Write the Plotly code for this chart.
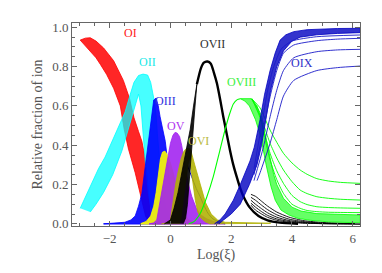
import plotly.graph_objects as go

# ---------------- data (Log(xi), fraction) ----------------
# OI band (red): leftmost member and rightmost member
OI_left_x = [-2.97, -2.8, -2.64, -2.45, -2.3, -2.1, -1.87, -1.65, -1.52, -1.38, -1.16, -1.0, -0.9, -0.82, -0.72, -0.6]
OI_left_y = [0.935, 0.905, 0.876, 0.845, 0.81, 0.76, 0.69, 0.60, 0.48, 0.38, 0.26, 0.16, 0.09, 0.04, 0.01, 0.0]
OI_right_x = [-2.97, -2.8, -2.64, -2.45, -2.2, -1.87, -1.55, -1.35, -1.2, -1.05, -0.94, -0.85, -0.77, -0.72, -0.68, -0.6, -0.5]
OI_right_y = [0.935, 0.945, 0.947, 0.93, 0.895, 0.83, 0.73, 0.64, 0.54, 0.47, 0.42, 0.35, 0.25, 0.15, 0.07, 0.02, 0.0]

# OII band (cyan): outer outline and inner (hole) outline
OII_outer_x = [-2.97, -2.75, -2.55, -2.37, -2.15, -1.98, -1.8, -1.65, -1.49, -1.33, -1.2, -1.05, -0.9, -0.75,
               -0.65, -0.55, -0.47, -0.43, -0.38, -0.32, -0.25, -0.15, 0.0, 0.2, 0.4]
OII_outer_y = [0.079, 0.15, 0.22, 0.28, 0.34, 0.40, 0.46, 0.51, 0.57, 0.655, 0.72, 0.755, 0.762, 0.757,
               0.72, 0.64, 0.55, 0.46, 0.36, 0.26, 0.16, 0.08, 0.03, 0.01, 0.0]
OII_inner_x = [-2.64, -2.45, -2.2, -1.9, -1.6, -1.4, -1.2, -1.05, -0.97, -0.9, -0.82, -0.72, -0.6, -0.45]
OII_inner_y = [0.06, 0.1, 0.16, 0.25, 0.37, 0.47, 0.58, 0.66, 0.6, 0.45, 0.3, 0.15, 0.05, 0.0]

# OIII band (blue)
OIII_x = [-2.2, -1.8, -1.5, -1.3, -1.16, -1.05, -0.94, -0.83, -0.72, -0.62, -0.55, -0.47, -0.4, -0.34,
          -0.25, -0.17, -0.1, -0.03, 0.05, 0.15, 0.3, 0.5]
OIII_y = [0.0, 0.003, 0.008, 0.02, 0.04, 0.09, 0.155, 0.29, 0.43, 0.57, 0.63, 0.64, 0.6, 0.545,
          0.48, 0.42, 0.33, 0.22, 0.14, 0.07, 0.02, 0.0]
# a far-reaching blue member tail
BLUE_tail_x = [0.55, 0.7, 0.85, 0.98, 1.1, 1.23, 1.4, 1.6, 1.8]
BLUE_tail_y = [0.3, 0.24, 0.18, 0.138, 0.095, 0.055, 0.025, 0.01, 0.0]

# OIV band (yellow)
OIV_x = [-1.0, -0.8, -0.65, -0.55, -0.47, -0.4, -0.33, -0.26, -0.18, -0.1, 0.0, 0.1, 0.2, 0.32, 0.45, 0.6, 0.8, 1.0]
OIV_y = [0.0, 0.012, 0.04, 0.09, 0.16, 0.25, 0.33, 0.365, 0.37, 0.35, 0.31, 0.255, 0.18, 0.1, 0.05, 0.02, 0.005, 0.0]

# OV band (purple)
OV_x = [-0.7, -0.55, -0.45, -0.34, -0.25, -0.17, -0.08, 0.0, 0.08, 0.15, 0.22, 0.3, 0.37, 0.43, 0.5, 0.58,
        0.7, 0.85, 1.0, 1.2, 1.45, 1.8]
OV_y = [0.0, 0.005, 0.02, 0.12, 0.19, 0.257, 0.34, 0.41, 0.45, 0.465, 0.462, 0.445, 0.4, 0.34, 0.28, 0.21,
        0.14, 0.08, 0.045, 0.025, 0.01, 0.0]

# OVI band (olive)
OVI_outer_x = [-0.3, -0.1, 0.0, 0.1, 0.18, 0.26, 0.35, 0.43, 0.5, 0.58, 0.66, 0.8, 1.0, 1.15, 1.34, 1.55, 1.8, 2.5, 3.3]
OVI_outer_y = [0.0, 0.005, 0.02, 0.14, 0.21, 0.27, 0.33, 0.365, 0.38, 0.385, 0.38, 0.3, 0.187, 0.11, 0.05, 0.02, 0.008, 0.004, 0.003]
OVI_inner_x = [0.3, 0.35, 0.42, 0.5, 0.58, 0.62, 0.68, 0.75, 0.82, 0.9, 1.0, 1.15, 1.3]
OVI_inner_y = [0.0, 0.03, 0.12, 0.22, 0.3, 0.345, 0.3, 0.2, 0.12, 0.06, 0.03, 0.01, 0.0]

# OVII (black): thick rising band, main curve, spreading tails
OVII_outer_x = [-0.2, 0.0, 0.12, 0.25, 0.35, 0.45, 0.55, 0.65, 0.76, 0.87]
OVII_outer_y = [0.0, 0.02, 0.08, 0.16, 0.24, 0.32, 0.4, 0.48, 0.6, 0.71]
OVII_inner_x = [0.42, 0.5, 0.56, 0.62, 0.68, 0.74, 0.8, 0.87]
OVII_inner_y = [0.0, 0.03, 0.1, 0.2, 0.32, 0.45, 0.58, 0.71]
OVII_main_x = [0.87, 1.0, 1.1, 1.22, 1.33, 1.43, 1.53, 1.64, 1.74, 1.85, 1.96, 2.07, 2.18, 2.3, 2.4, 2.6, 2.9, 3.2, 3.6, 4.2]
OVII_main_y = [0.71, 0.79, 0.82, 0.826, 0.815, 0.77, 0.715, 0.63, 0.545, 0.46, 0.375, 0.3, 0.24, 0.18, 0.14, 0.085, 0.04, 0.018, 0.006, 0.0]
OVII_tail_x = [2.65, 2.8, 3.0, 3.2, 3.5, 3.9, 4.4, 5.0, 5.6, 6.25]
OVII_tails_y = [
    [0.15, 0.14, 0.115, 0.09, 0.06, 0.034, 0.016, 0.007, 0.003, 0.001],
    [0.135, 0.12, 0.095, 0.072, 0.046, 0.024, 0.011, 0.004, 0.002, 0.0],
    [0.12, 0.1, 0.077, 0.056, 0.034, 0.017, 0.007, 0.002, 0.001, 0.0],
    [0.105, 0.085, 0.062, 0.043, 0.025, 0.012, 0.005, 0.001, 0.0, 0.0],
    [0.095, 0.07, 0.05, 0.033, 0.018, 0.008, 0.003, 0.001, 0.0, 0.0],
]

# OVIII (green): single rising curve, dense falling band, spread tails
OVIII_rise_x = [0.6, 0.76, 0.98, 1.2, 1.41, 1.63, 1.8, 1.95, 2.07, 2.2, 2.3]
OVIII_rise_y = [0.0, 0.01, 0.053, 0.138, 0.24, 0.375, 0.48, 0.56, 0.61, 0.632, 0.637]
OVIII_low_x = [2.3, 2.45, 2.6, 2.8, 2.98, 3.15, 3.31, 3.45, 3.64, 3.9, 4.2, 4.6, 5.2, 6.25]
OVIII_low_y = [0.637, 0.625, 0.6, 0.53, 0.44, 0.3, 0.19, 0.12, 0.07, 0.045, 0.028, 0.018, 0.01, 0.005]
OVIII_up_x = [2.3, 2.5, 2.65, 2.85, 3.0, 3.15, 3.28, 3.4, 3.5, 3.72, 4.0, 4.3, 4.82, 5.5, 6.25]
OVIII_up_y = [0.637, 0.638, 0.637, 0.6, 0.53, 0.43, 0.33, 0.25, 0.2, 0.13, 0.085, 0.065, 0.052, 0.047, 0.045]
OVIII_tail_x = [2.68, 2.95, 3.1, 3.28, 3.5, 3.72, 4.0, 4.27, 4.5, 4.82, 5.2, 5.6, 6.25]
OVIII_tails_y = [
    [0.636, 0.59, 0.54, 0.477, 0.415, 0.359, 0.31, 0.274, 0.252, 0.23, 0.218, 0.211, 0.206],
    [0.636, 0.565, 0.49, 0.41, 0.335, 0.274, 0.215, 0.172, 0.154, 0.138, 0.13, 0.125, 0.121],
    [0.637, 0.55, 0.46, 0.359, 0.27, 0.206, 0.145, 0.113, 0.098, 0.087, 0.083, 0.081, 0.079],
    [0.637, 0.54, 0.44, 0.325, 0.225, 0.155, 0.1, 0.079, 0.068, 0.062, 0.059, 0.058, 0.057],
]

# OIX (dark blue): dense rising band and spread members
OIX_left_x = [1.45, 1.63, 1.8, 2.07, 2.3, 2.5, 2.62, 2.76, 2.95, 3.1, 3.28, 3.45, 3.61, 3.8, 4.06, 4.5, 4.82, 5.5, 6.25]
OIX_left_y = [0.0, 0.02, 0.05, 0.12, 0.2, 0.27, 0.32, 0.39, 0.53, 0.66, 0.78, 0.87, 0.935, 0.962, 0.978, 0.988, 0.991, 0.994, 0.995]
OIX_right_x = [1.6, 1.75, 2.0, 2.3, 2.6, 2.85, 3.0, 3.13, 3.3, 3.5, 3.72, 4.0, 4.27, 4.82, 5.5, 6.25]
OIX_right_y = [0.0, 0.02, 0.05, 0.1, 0.2, 0.3, 0.4, 0.53, 0.68, 0.8, 0.88, 0.93, 0.95, 0.962, 0.969, 0.973]
OIX_spread = [
    ([2.75, 3.0, 3.2, 3.4, 3.65, 4.0, 4.8, 6.25], [0.28, 0.5, 0.68, 0.8, 0.89, 0.93, 0.952, 0.961]),
    ([2.75, 3.06, 3.28, 3.5, 3.72, 4.06, 4.82, 5.5, 6.25], [0.25, 0.477, 0.647, 0.78, 0.868, 0.91, 0.932, 0.94, 0.944]),
    ([2.75, 3.06, 3.28, 3.5, 3.72, 4.06, 4.82, 5.5, 6.25], [0.22, 0.39, 0.545, 0.68, 0.78, 0.845, 0.876, 0.885, 0.888]),
    ([2.85, 2.95, 3.28, 3.5, 3.72, 4.06, 4.82, 5.5, 6.25], [0.22, 0.26, 0.41, 0.53, 0.65, 0.73, 0.78, 0.795, 0.803]),
]

# ion labels
LABELS = ["OI", "OII", "OIII", "OV", "OVI", "OVII", "OVIII", "OIX"]
LABEL_X = [-1.33, -0.77, -0.17, 0.19, 0.91, 1.39, 2.35, 4.33]
LABEL_Y = [0.971, 0.823, 0.624, 0.498, 0.421, 0.916, 0.72, 0.82]
LABEL_C = ["#ff2020", "#20e8e8", "#3030e0", "#b030f0", "#b8b840", "#303030", "#40f040", "#3030c8"]

RED, CYAN, BLUE, YELLOW, PURPLE, OLIVE, BLACK, GREEN, NAVY = (
    "#ff0000", "#00ffff", "#0000ff", "#ffff00", "#a020f0", "#b0b000", "#000000", "#00ff00", "#0000c0")

SERIF = "Liberation Serif, DejaVu Serif, serif"

fig = go.Figure()


def rgba(hexc, a):
    h = hexc.lstrip("#")
    return "rgba(%d,%d,%d,%.2f)" % (int(h[0:2], 16), int(h[2:4], 16), int(h[4:6], 16), a)


def band(x1, y1, x2, y2, color, alpha=0.85):
    xs = list(x1) + list(x2)[::-1]
    ys = list(y1) + list(y2)[::-1]
    fig.add_trace(go.Scatter(x=xs, y=ys, mode="lines", fill="toself", fillcolor=rgba(color, alpha),
                             line=dict(color=color, width=0.8), hoverinfo="skip", showlegend=False))


def curve(x, y, color, width=1.0):
    fig.add_trace(go.Scatter(x=x, y=y, mode="lines", line=dict(color=color, width=width, shape="spline", smoothing=0.6),
                             hoverinfo="skip", showlegend=False))


band(OI_left_x, OI_left_y, OI_right_x, OI_right_y, RED, 0.85)
band(OII_outer_x, OII_outer_y, OII_inner_x, OII_inner_y, CYAN, 0.72)
band(OIII_x, OIII_y, [OIII_x[-1], OIII_x[0]], [0.0, 0.0], BLUE, 0.9)
band(OIV_x, OIV_y, [OIV_x[-1], OIV_x[0]], [0.0, 0.0], YELLOW, 0.9)
band(OV_x, OV_y, [OV_x[-1], OV_x[0]], [0.0, 0.0], PURPLE, 0.88)
curve(BLUE_tail_x, BLUE_tail_y, "#0000dd", 1.0)
band(OVI_outer_x, OVI_outer_y, OVI_inner_x, OVI_inner_y, OLIVE, 0.88)
band(OVII_outer_x, OVII_outer_y, OVII_inner_x, OVII_inner_y, BLACK, 0.9)
curve(OVII_main_x, OVII_main_y, BLACK, 2.4)
for ty in OVII_tails_y:
    curve(OVII_tail_x, ty, BLACK, 0.9)
curve(OVIII_rise_x, OVIII_rise_y, GREEN, 1.1)
band(OVIII_up_x, OVIII_up_y, OVIII_low_x, OVIII_low_y, GREEN, 0.6)
for ty in OVIII_tails_y:
    curve(OVIII_tail_x, ty, GREEN, 0.9)
band(OIX_left_x, OIX_left_y, OIX_right_x, OIX_right_y, NAVY, 0.8)
for sx, sy in OIX_spread:
    curve(sx, sy, "#1a1ac8", 0.9)

for t, lx, ly, c in zip(LABELS, LABEL_X, LABEL_Y, LABEL_C):
    fig.add_annotation(x=lx, y=ly, text=t, showarrow=False, xanchor="center", yanchor="middle",
                       font=dict(family=SERIF, size=12, color=c))

axis_common = dict(showline=True, linecolor="#666666", linewidth=1, mirror="allticks", ticks="inside",
                   tickcolor="#666666", ticklen=5, showgrid=False, zeroline=False, automargin=False,
                   tickfont=dict(family=SERIF, size=13, color="#555555"))

fig.update_xaxes(range=[-3.24, 6.24], tick0=0, dtick=2,
                 minor=dict(dtick=0.5, ticks="inside", ticklen=3, tickcolor="#666666"),
                 title=dict(text="Log(ξ)", font=dict(family=SERIF, size=14, color="#555555"), standoff=4),
                 **axis_common)
fig.update_yaxes(range=[-0.011, 1.022], tick0=0, dtick=0.2, tickformat=".1f",
                 minor=dict(dtick=0.05, ticks="inside", ticklen=3, tickcolor="#666666"),
                 title=dict(text="Relative fraction of ion", font=dict(family=SERIF, size=14, color="#555555"), standoff=6),
                 **axis_common)

# the page body adds an 8px offset: figure is 8px smaller, left/top margins reduced by 8
fig.update_layout(width=374, height=265, margin=dict(l=64, r=22, t=15, b=47),
                  plot_bgcolor="white", paper_bgcolor="white", showlegend=False)

fig.write_html("out.html")
